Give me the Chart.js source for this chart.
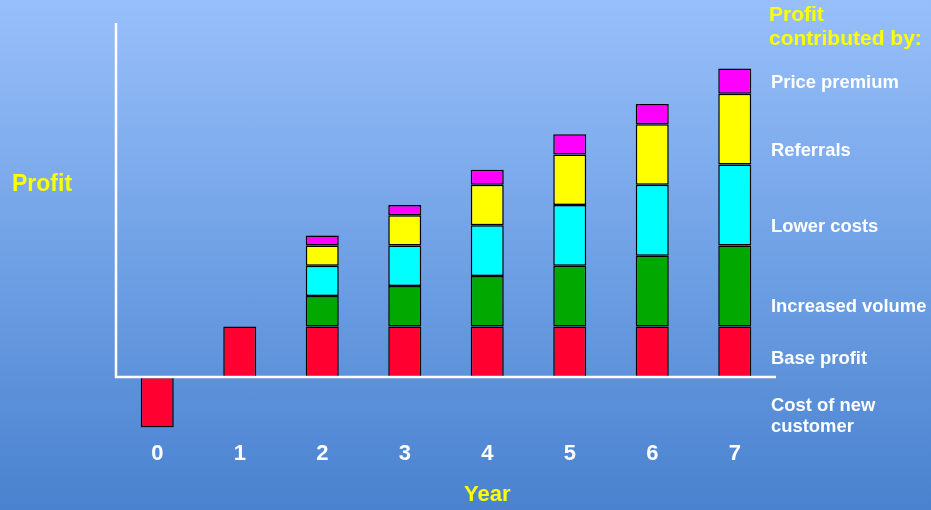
<!DOCTYPE html>
<html>
<head>
<meta charset="utf-8">
<script src="https://cdn.jsdelivr.net/npm/chart.js@4/dist/chart.umd.min.js"></script>
<style>
html, body { margin: 0; padding: 0; }
body {
    width: 931px;
    height: 510px;
    overflow: hidden;
    background: linear-gradient(to bottom, #98bffa 0%, #6c9ee3 55%, #4a82cf 100%);
}
#wrap { position: relative; width: 931px; height: 510px; }
</style>
</head>
<body>
<div id="wrap"><canvas id="profitChart" width="931" height="510"></canvas></div>
<script>
var years = ['0', '1', '2', '3', '4', '5', '6', '7'];

var costOfNewCustomer = [-1, null, null, null, null, null, null, null];
var baseProfit = [null, 1, 1, 1, 1, 1, 1, 1];
var increasedVolume = [null, null, 0.6, 0.8, 1.0, 1.2, 1.4, 1.6];
var lowerCosts = [null, null, 0.6, 0.8, 1.0, 1.2, 1.4, 1.6];
var referrals = [null, null, 0.4, 0.6, 0.8, 1.0, 1.2, 1.4];
var pricePremium = [null, null, 0.2, 0.2, 0.3, 0.4, 0.4, 0.5];

var yMin = -1;
var yMax = 7;

var legendTitle = ['Profit', 'contributed by:'];
var legendLabels = ['Price premium', 'Referrals', 'Lower costs', 'Increased volume', 'Base profit', 'Cost of new', 'customer'];

var FONT = '"Liberation Sans", Arial, Helvetica, sans-serif';

function makeSet(label, data, color) {
    return {
        label: label,
        data: data,
        backgroundColor: color,
        borderColor: '#000000',
        borderWidth: 1.5,
        borderSkipped: false,
        barPercentage: 0.4,
        categoryPercentage: 1.0,
        stack: 'profit'
    };
}

// white axis lines and all the loose text round the plot
var decorPlugin = {
    id: 'decor',
    afterDatasetsDraw: function(chart) {
        var ctx = chart.ctx;
        var area = chart.chartArea;
        var y0 = chart.scales.y.getPixelForValue(0);

        ctx.save();
        ctx.strokeStyle = '#ffffff';
        ctx.lineWidth = 2.5;
        ctx.beginPath();
        ctx.moveTo(area.left, area.top);
        ctx.lineTo(area.left, y0);
        ctx.lineTo(area.right, y0);
        ctx.stroke();

        ctx.textBaseline = 'middle';
        ctx.textAlign = 'left';

        ctx.fillStyle = '#ffff00';
        ctx.font = 'bold 23px ' + FONT;
        ctx.fillText('Profit', 12, 185);

        ctx.font = 'bold 21px ' + FONT;
        ctx.fillText(legendTitle[0], 769, 15);
        ctx.fillText(legendTitle[1], 769, 39);

        ctx.textAlign = 'center';
        ctx.font = 'bold 22px ' + FONT;
        ctx.fillText('Year', chart.scales.x.getPixelForValue(4), 495);

        ctx.textAlign = 'left';
        ctx.fillStyle = '#ffffff';
        ctx.font = 'bold 18.4px ' + FONT;
        var ys = [83, 151, 227, 307, 359, 406, 427];
        for (var i = 0; i < legendLabels.length; i++) {
            ctx.fillText(legendLabels[i], 771, ys[i]);
        }
        ctx.restore();
    }
};

var ctx = document.getElementById('profitChart').getContext('2d');
var profitChart = new Chart(ctx, {
    type: 'bar',
    data: {
        labels: years,
        datasets: [
            makeSet('Cost of new customer', costOfNewCustomer, '#ff0030'),
            makeSet('Base profit', baseProfit, '#ff0030'),
            makeSet('Increased volume', increasedVolume, '#00a800'),
            makeSet('Lower costs', lowerCosts, '#00ffff'),
            makeSet('Referrals', referrals, '#ffff00'),
            makeSet('Price premium', pricePremium, '#ff00ff')
        ]
    },
    options: {
        responsive: false,
        animation: false,
        layout: {
            padding: { left: 116, right: 155, top: 23, bottom: 30 }
        },
        plugins: {
            legend: { display: false },
            tooltip: { enabled: false }
        },
        scales: {
            x: {
                stacked: true,
                grid: { display: false, drawTicks: false },
                border: { display: false },
                ticks: {
                    color: '#ffffff',
                    padding: 13,
                    font: { family: FONT, size: 22, weight: 'bold' }
                }
            },
            y: {
                stacked: true,
                display: false,
                min: yMin,
                max: yMax
            }
        }
    },
    plugins: [decorPlugin]
});
</script>
</body>
</html>
